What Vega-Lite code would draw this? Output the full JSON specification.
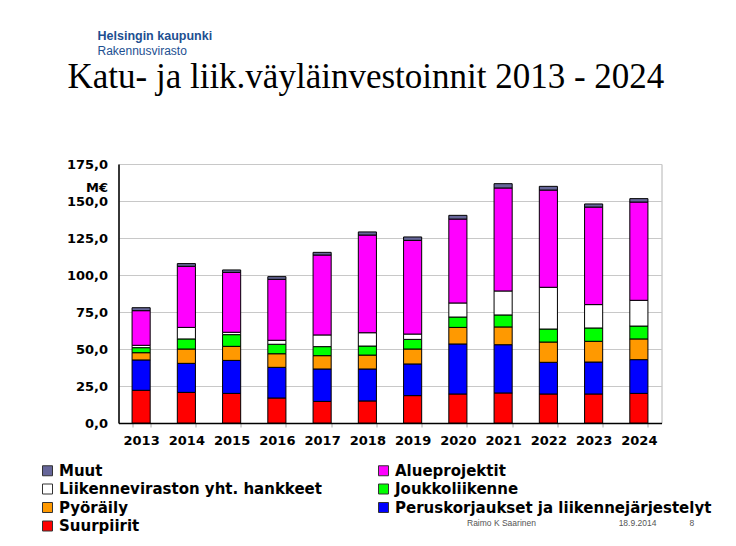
{
  "$schema": "https://vega.github.io/schema/vega-lite/v6.json",
  "background": "white",
  "padding": {"left": 39.5, "top": 30, "right": 0, "bottom": 0},
  "title": {
    "text": "Helsingin kaupunki",
    "subtitle": "Rakennusvirasto",
    "anchor": "start",
    "font": "Liberation Sans",
    "fontSize": 12.5,
    "fontWeight": "bold",
    "color": "#1d4f91",
    "subtitleFont": "Liberation Sans",
    "subtitleFontSize": 12,
    "subtitleColor": "#1d4f91",
    "subtitlePadding": 3,
    "offset": 2.5,
    "dx": 57.5
  },
  "vconcat": [
    {
      "title": {
        "text": "Katu- ja liik.väyläinvestoinnit 2013 - 2024",
        "anchor": "start",
        "frame": "group",
        "font": "Liberation Serif",
        "fontSize": 35,
        "fontWeight": "normal",
        "color": "#000000",
        "offset": 63.5,
        "dx": -51
      },
      "width": 543,
      "height": 259,
      "data": {
        "values": [
          {"vuosi": "2013", "luokka": "Suurpiirit", "arvo": 22.1},
          {"vuosi": "2013", "luokka": "Peruskorjaukset ja liikennejärjestelyt", "arvo": 20.5},
          {"vuosi": "2013", "luokka": "Pyöräily", "arvo": 4.9},
          {"vuosi": "2013", "luokka": "Joukkoliikenne", "arvo": 3.4},
          {"vuosi": "2013", "luokka": "Liikenneviraston yht. hankkeet", "arvo": 1.6},
          {"vuosi": "2013", "luokka": "Alueprojektit", "arvo": 23.4},
          {"vuosi": "2013", "luokka": "Muut", "arvo": 2.0},
          {"vuosi": "2014", "luokka": "Suurpiirit", "arvo": 20.7},
          {"vuosi": "2014", "luokka": "Peruskorjaukset ja liikennejärjestelyt", "arvo": 19.6},
          {"vuosi": "2014", "luokka": "Pyöräily", "arvo": 9.7},
          {"vuosi": "2014", "luokka": "Joukkoliikenne", "arvo": 6.8},
          {"vuosi": "2014", "luokka": "Liikenneviraston yht. hankkeet", "arvo": 7.8},
          {"vuosi": "2014", "luokka": "Alueprojektit", "arvo": 41.3},
          {"vuosi": "2014", "luokka": "Muut", "arvo": 1.8},
          {"vuosi": "2015", "luokka": "Suurpiirit", "arvo": 20.0},
          {"vuosi": "2015", "luokka": "Peruskorjaukset ja liikennejärjestelyt", "arvo": 22.3},
          {"vuosi": "2015", "luokka": "Pyöräily", "arvo": 9.5},
          {"vuosi": "2015", "luokka": "Joukkoliikenne", "arvo": 7.9},
          {"vuosi": "2015", "luokka": "Liikenneviraston yht. hankkeet", "arvo": 1.6},
          {"vuosi": "2015", "luokka": "Alueprojektit", "arvo": 40.5},
          {"vuosi": "2015", "luokka": "Muut", "arvo": 1.6},
          {"vuosi": "2016", "luokka": "Suurpiirit", "arvo": 16.9},
          {"vuosi": "2016", "luokka": "Peruskorjaukset ja liikennejärjestelyt", "arvo": 20.7},
          {"vuosi": "2016", "luokka": "Pyöräily", "arvo": 9.2},
          {"vuosi": "2016", "luokka": "Joukkoliikenne", "arvo": 6.4},
          {"vuosi": "2016", "luokka": "Liikenneviraston yht. hankkeet", "arvo": 2.7},
          {"vuosi": "2016", "luokka": "Alueprojektit", "arvo": 41.2},
          {"vuosi": "2016", "luokka": "Muut", "arvo": 1.8},
          {"vuosi": "2017", "luokka": "Suurpiirit", "arvo": 14.6},
          {"vuosi": "2017", "luokka": "Peruskorjaukset ja liikennejärjestelyt", "arvo": 21.9},
          {"vuosi": "2017", "luokka": "Pyöräily", "arvo": 9.0},
          {"vuosi": "2017", "luokka": "Joukkoliikenne", "arvo": 6.1},
          {"vuosi": "2017", "luokka": "Liikenneviraston yht. hankkeet", "arvo": 7.9},
          {"vuosi": "2017", "luokka": "Alueprojektit", "arvo": 54.0},
          {"vuosi": "2017", "luokka": "Muut", "arvo": 1.8},
          {"vuosi": "2018", "luokka": "Suurpiirit", "arvo": 14.9},
          {"vuosi": "2018", "luokka": "Peruskorjaukset ja liikennejärjestelyt", "arvo": 21.6},
          {"vuosi": "2018", "luokka": "Pyöräily", "arvo": 9.4},
          {"vuosi": "2018", "luokka": "Joukkoliikenne", "arvo": 6.1},
          {"vuosi": "2018", "luokka": "Liikenneviraston yht. hankkeet", "arvo": 9.0},
          {"vuosi": "2018", "luokka": "Alueprojektit", "arvo": 66.0},
          {"vuosi": "2018", "luokka": "Muut", "arvo": 2.1},
          {"vuosi": "2019", "luokka": "Suurpiirit", "arvo": 18.5},
          {"vuosi": "2019", "luokka": "Peruskorjaukset ja liikennejärjestelyt", "arvo": 21.4},
          {"vuosi": "2019", "luokka": "Pyöräily", "arvo": 10.1},
          {"vuosi": "2019", "luokka": "Joukkoliikenne", "arvo": 6.5},
          {"vuosi": "2019", "luokka": "Liikenneviraston yht. hankkeet", "arvo": 3.6},
          {"vuosi": "2019", "luokka": "Alueprojektit", "arvo": 63.3},
          {"vuosi": "2019", "luokka": "Muut", "arvo": 2.3},
          {"vuosi": "2020", "luokka": "Suurpiirit", "arvo": 19.6},
          {"vuosi": "2020", "luokka": "Peruskorjaukset ja liikennejärjestelyt", "arvo": 33.8},
          {"vuosi": "2020", "luokka": "Pyöräily", "arvo": 11.2},
          {"vuosi": "2020", "luokka": "Joukkoliikenne", "arvo": 7.0},
          {"vuosi": "2020", "luokka": "Liikenneviraston yht. hankkeet", "arvo": 9.5},
          {"vuosi": "2020", "luokka": "Alueprojektit", "arvo": 56.7},
          {"vuosi": "2020", "luokka": "Muut", "arvo": 2.5},
          {"vuosi": "2021", "luokka": "Suurpiirit", "arvo": 20.3},
          {"vuosi": "2021", "luokka": "Peruskorjaukset ja liikennejärjestelyt", "arvo": 32.6},
          {"vuosi": "2021", "luokka": "Pyöräily", "arvo": 12.0},
          {"vuosi": "2021", "luokka": "Joukkoliikenne", "arvo": 8.1},
          {"vuosi": "2021", "luokka": "Liikenneviraston yht. hankkeet", "arvo": 16.2},
          {"vuosi": "2021", "luokka": "Alueprojektit", "arvo": 69.6},
          {"vuosi": "2021", "luokka": "Muut", "arvo": 2.9},
          {"vuosi": "2022", "luokka": "Suurpiirit", "arvo": 19.6},
          {"vuosi": "2022", "luokka": "Peruskorjaukset ja liikennejärjestelyt", "arvo": 21.4},
          {"vuosi": "2022", "luokka": "Pyöräily", "arvo": 13.7},
          {"vuosi": "2022", "luokka": "Joukkoliikenne", "arvo": 8.8},
          {"vuosi": "2022", "luokka": "Liikenneviraston yht. hankkeet", "arvo": 28.2},
          {"vuosi": "2022", "luokka": "Alueprojektit", "arvo": 65.7},
          {"vuosi": "2022", "luokka": "Muut", "arvo": 2.5},
          {"vuosi": "2023", "luokka": "Suurpiirit", "arvo": 19.6},
          {"vuosi": "2023", "luokka": "Peruskorjaukset ja liikennejärjestelyt", "arvo": 21.6},
          {"vuosi": "2023", "luokka": "Pyöräily", "arvo": 14.0},
          {"vuosi": "2023", "luokka": "Joukkoliikenne", "arvo": 9.0},
          {"vuosi": "2023", "luokka": "Liikenneviraston yht. hankkeet", "arvo": 15.8},
          {"vuosi": "2023", "luokka": "Alueprojektit", "arvo": 65.9},
          {"vuosi": "2023", "luokka": "Muut", "arvo": 2.1},
          {"vuosi": "2024", "luokka": "Suurpiirit", "arvo": 20.0},
          {"vuosi": "2024", "luokka": "Peruskorjaukset ja liikennejärjestelyt", "arvo": 22.8},
          {"vuosi": "2024", "luokka": "Pyöräily", "arvo": 14.0},
          {"vuosi": "2024", "luokka": "Joukkoliikenne", "arvo": 8.7},
          {"vuosi": "2024", "luokka": "Liikenneviraston yht. hankkeet", "arvo": 17.4},
          {"vuosi": "2024", "luokka": "Alueprojektit", "arvo": 66.4},
          {"vuosi": "2024", "luokka": "Muut", "arvo": 2.3}
        ]
      },
      "transform": [
        {"calculate": "indexof(['Suurpiirit','Peruskorjaukset ja liikennejärjestelyt','Pyöräily','Joukkoliikenne','Liikenneviraston yht. hankkeet','Alueprojektit','Muut'], datum.luokka)", "as": "o"}
      ],
      "mark": {"type": "bar", "stroke": "#000000", "strokeWidth": 1},
      "encoding": {
        "x": {
          "field": "vuosi",
          "type": "nominal",
          "scale": {"paddingInner": 0.6, "paddingOuter": 0.3},
          "axis": {
            "title": "Raimo K Saarinen\u00a0\u00a0\u00a0\u00a0\u00a0\u00a0\u00a0\u00a0\u00a0\u00a0\u00a0\u00a0\u00a0\u00a0\u00a0\u00a0\u00a0\u00a0\u00a0\u00a0\u00a0\u00a0\u00a0\u00a0\u00a0\u00a0\u00a0\u00a0\u00a0\u00a0\u00a0\u00a0\u00a0\u00a0\u00a018.9.2014\u00a0\u00a0\u00a0\u00a0\u00a0\u00a0\u00a0\u00a0\u00a0\u00a0\u00a0\u00a0\u00a0\u00a08",
            "titleFont": "Liberation Sans",
            "titleFontSize": 8.5,
            "titleFontWeight": "normal",
            "titleColor": "#555555",
            "titleX": 348,
            "titleY": 102,
            "titleAlign": "left",
            "titleBaseline": "alphabetic",
            "labelAngle": 0,
            "labelFont": "DejaVu Sans",
            "labelFontSize": 13,
            "labelFontWeight": "bold",
            "labelColor": "#000000",
            "labelPadding": 7,
            "domainColor": "#000000",
            "domainWidth": 1.5,
            "tickColor": "#aaaaaa",
            "tickSize": 4,
            "tickBand": "extent"
          }
        },
        "y": {
          "field": "arvo",
          "type": "quantitative",
          "stack": "zero",
          "scale": {"domain": [0, 175], "nice": false},
          "axis": {
            "title": "M€",
            "titleAngle": 0,
            "titleX": -11,
            "titleY": 27,
            "titleAlign": "right",
            "titleBaseline": "alphabetic",
            "titleFont": "DejaVu Sans",
            "titleFontSize": 13,
            "titleFontWeight": "bold",
            "titleColor": "#000000",
            "values": [0, 25, 50, 75, 100, 125, 150, 175],
            "labelExpr": "replace(format(datum.value, '.1f'), '.', ',')",
            "labelFont": "DejaVu Sans",
            "labelFontSize": 13,
            "labelFontWeight": "bold",
            "labelColor": "#000000",
            "labelPadding": 11,
            "tickSize": 0,
            "domainColor": "#000000",
            "domainWidth": 1.5,
            "gridColor": "#c8c8c8",
            "gridWidth": 1
          }
        },
        "color": {
          "field": "luokka",
          "type": "nominal",
          "scale": {
            "domain": ["Muut", "Liikenneviraston yht. hankkeet", "Pyöräily", "Suurpiirit", "Alueprojektit", "Joukkoliikenne", "Peruskorjaukset ja liikennejärjestelyt"],
            "range": ["#666699", "#ffffff", "#ff9900", "#ff0000", "#ff00ff", "#00ff00", "#0000ff"]
          },
          "legend": {
            "title": null,
            "orient": "none",
            "legendX": -78.5,
            "legendY": 299,
            "columns": 2,
            "columnPadding": 54,
            "rowPadding": 2.5,
            "symbolType": "square",
            "symbolSize": 100,
            "symbolStrokeColor": "#333333",
            "symbolStrokeWidth": 1,
            "labelFont": "DejaVu Sans",
            "labelFontSize": 15,
            "labelFontWeight": "bold",
            "labelColor": "#000000",
            "labelLimit": 500,
            "labelOffset": 4
          }
        },
        "order": {"field": "o", "type": "quantitative", "sort": "ascending"}
      }
    }
  ],
  "config": {
    "view": {"stroke": "#b4b4b4"}
  }
}
